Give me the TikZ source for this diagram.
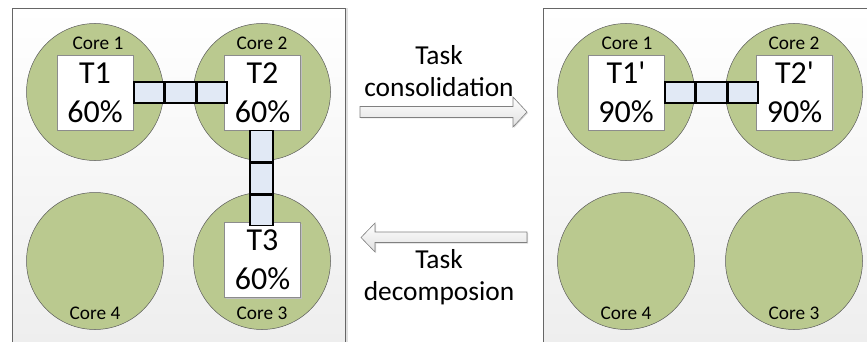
\documentclass[tikz,border=0pt]{standalone}
\usepackage{fontspec}
\setmainfont{Carlito}
\usetikzlibrary{shadows}
\begin{document}
\begin{tikzpicture}[x=1pt,y=-1pt,
  panel/.style={draw=black!60,line width=0.9pt,top color=white,bottom color=black!7,
    drop shadow={shadow xshift=3pt,shadow yshift=0pt,fill=black!12,opacity=1}},
  core/.style={circle,draw=black!65,line width=0.5pt,fill=coregreen,minimum size=137pt,inner sep=0pt},
  corelabel/.style={font=\fontsize{19.3}{20}\selectfont,inner sep=0pt},
  taskbox/.style={draw=black!45,line width=0.6pt,fill=white,minimum width=76pt,minimum height=75pt,
    inner sep=0pt,align=center,font=\fontsize{32}{39}\selectfont,
    drop shadow={shadow xshift=1pt,shadow yshift=-1pt,fill=black!25,opacity=1}},
  hcell/.style={draw=black,line width=1.4pt,fill=linkblue,minimum width=30pt,minimum height=21pt,inner sep=0pt},
  vcell/.style={draw=black,line width=1.4pt,fill=linkblue,minimum width=23pt,minimum height=30.7pt,inner sep=0pt},
  bigarrow/.style={draw=black!50,line width=0.6pt,top color=white,bottom color=black!12,
    drop shadow={shadow xshift=1pt,shadow yshift=-1pt,fill=black!15,opacity=1}},
  caption/.style={font=\fontsize{27.4}{32}\selectfont,align=center,inner sep=0pt}
]
\definecolor{coregreen}{HTML}{BAC98F}
\definecolor{linkblue}{HTML}{E1E9F5}
\useasboundingbox (0,0) rectangle (867,342);

% ---- left panel: before consolidation ----
\path[panel] (12,8) rectangle (345,360);
\node[core] (a1) at (95,92) {};
\node[core] (a2) at (262,92) {};
\node[core] (a4) at (95,261) {};
\node[core] (a3) at (262,261) {};
\node[corelabel] at (98,43) {Core 1};
\node[corelabel] at (262,43) {Core 2};
\node[corelabel] at (95,313) {Core 4};
\node[corelabel] at (262,313) {Core 3};
\node[taskbox] (t1) at (95,92.5) {T1\\60\%};
\node[taskbox] (t2) at (262.5,92.5) {T2\\60\%};
\node[taskbox] (t3) at (262.5,260) {T3\\60\%};
% link T1 -- T2
\node[hcell,anchor=west] (h1) at (t1.east |- 0,92.5) {};
\node[hcell,anchor=west] (h2) at (h1.east) {};
\node[hcell,anchor=west] (h3) at (h2.east) {};
% link T2 -- T3
\node[vcell,anchor=north] (v1) at (261.5,130) {};
\node[vcell,anchor=north] (v2) at (v1.south) {};
\node[vcell,anchor=north] (v3) at (v2.south) {};

% ---- arrows between the panels ----
\path[bigarrow] (360,106.5) -- (513,106.5) -- (513,97) -- (527,112) -- (513,127) -- (513,117.5) -- (360,117.5) -- cycle;
\path[bigarrow] (527,232) -- (375,232) -- (375,223) -- (361,237.5) -- (375,252) -- (375,242.5) -- (527,242.5) -- cycle;
\node[caption] (c1) at (439,71) {Task\\consolidation};
\node[caption] (c2) at (439,277.5) {Task\\decomposion};

% ---- right panel: after consolidation ----
\path[panel] (543,8) rectangle (880,360);
\node[core] (b1) at (626,92) {};
\node[core] (b2) at (794,92) {};
\node[core] (b4) at (626,261) {};
\node[core] (b3) at (794,261) {};
\node[corelabel] at (627,43) {Core 1};
\node[corelabel] at (794,43) {Core 2};
\node[corelabel] at (626,313) {Core 4};
\node[corelabel] at (794,313) {Core 3};
\node[taskbox] (u1) at (626,92.5) {T1\textquotesingle\\90\%};
\node[taskbox] (u2) at (794.5,92.5) {T2\textquotesingle\\90\%};
\node[hcell,anchor=west] (k1) at (u1.east |- 0,92.5) {};
\node[hcell,anchor=west] (k2) at (k1.east) {};
\node[hcell,anchor=west] (k3) at (k2.east) {};
\end{tikzpicture}
\end{document}
